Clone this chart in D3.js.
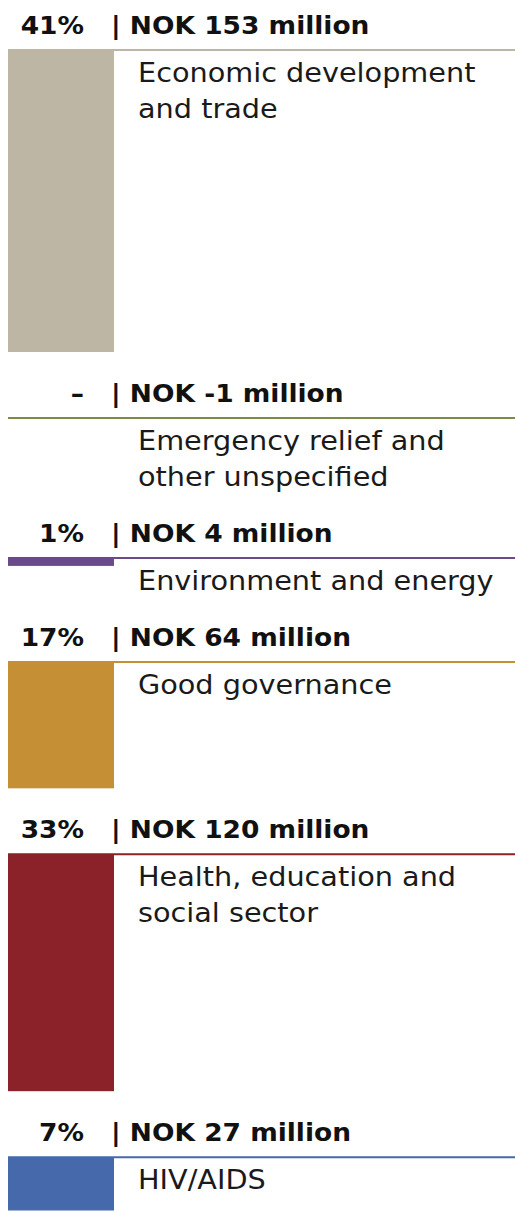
<!DOCTYPE html>
<html>
<head>
<meta charset="utf-8">
<script src="https://cdn.jsdelivr.net/npm/d3@7/dist/d3.min.js"></script>
<style>
  html, body { margin: 0; padding: 0; background: #fff; }
  svg { display: block; }
</style>
</head>
<body>
<svg id="chart" width="515" height="1212"></svg>
<script>
// Sector breakdown, NOK million and share of total
const sectors = [
  "Economic development and trade",
  "Emergency relief and other unspecified",
  "Environment and energy",
  "Good governance",
  "Health, education and social sector",
  "HIV/AIDS"
];
const labelLines = [
  ["Economic development", "and trade"],
  ["Emergency relief and", "other unspecified"],
  ["Environment and energy"],
  ["Good governance"],
  ["Health, education and", "social sector"],
  ["HIV/AIDS"]
];
const amounts = [153, -1, 4, 64, 120, 27];      // NOK million
const shares  = [41, null, 1, 17, 33, 7];       // percent of total (null = not shown)
const colors  = ["#bdb6a4", "#7e8a4b", "#6a4a8b", "#c48f35", "#8b2229", "#4569aa"];

const width = 515, height = 1212;
const svg = d3.select("#chart");

// Bar length scale (vertical), negatives get no bar
const h = d3.scaleLinear().domain([0, 153]).range([0, 302]);
// Horizontal layout: bar column and rule extent
const x = d3.scaleLinear().domain([0, 1]).range([8, 114]);

const fontFamily = "Verdana, 'DejaVu Sans', sans-serif";
const headStretch = 1.08, bodyStretch = 1.105;
const lineOffset = 16;    // header baseline -> rule
const textOffset = 48;    // header baseline -> first label baseline
const lineStep = 36;      // label line spacing
const textPad = 6;        // label descent
const gap = 50;           // space before next header

let cursorY = 34;
const rows = sectors.map((s, i) => {
  const ruleY = cursorY + lineOffset;
  const barH = h(Math.max(0, amounts[i]));
  const lastBaseline = cursorY + textOffset + (labelLines[i].length - 1) * lineStep;
  const row = { i, sector: s, headY: cursorY, ruleY, barH };
  cursorY = Math.max(ruleY + barH, lastBaseline + textPad) + gap;
  return row;
});

const g = svg.selectAll("g.row").data(rows).join("g").attr("class", "row");

// rule across the full width
g.append("line")
  .attr("x1", x(0)).attr("x2", width)
  .attr("y1", d => d.ruleY).attr("y2", d => d.ruleY)
  .attr("stroke", d => colors[d.i])
  .attr("stroke-width", 2);

// bar
g.filter(d => d.barH > 0).append("rect")
  .attr("x", x(0))
  .attr("y", d => d.ruleY)
  .attr("width", x(1) - x(0))
  .attr("height", d => d.barH)
  .attr("fill", d => colors[d.i]);

// share (right aligned)
g.append("text")
  .attr("transform", d => `translate(84,${d.headY}) scale(${headStretch},1)`)
  .attr("text-anchor", "end")
  .attr("font-family", fontFamily)
  .attr("font-weight", "bold")
  .attr("font-size", 24.5)
  .attr("fill", "#111")
  .text(d => shares[d.i] == null ? "\u2013" : `${shares[d.i]}%`);

// amount
g.append("text")
  .attr("transform", d => `translate(111,${d.headY}) scale(${headStretch},1)`)
  .attr("font-family", fontFamily)
  .attr("font-weight", "bold")
  .attr("font-size", 24.5)
  .attr("fill", "#111")
  .text(d => `| NOK ${amounts[d.i]} million`);

// sector label
g.each(function (d) {
  d3.select(this).selectAll("text.label")
    .data(labelLines[d.i])
    .join("text")
    .attr("class", "label")
    .attr("transform", (t, k) => `translate(138,${d.headY + textOffset + k * lineStep}) scale(${bodyStretch},1)`)
    .attr("font-family", fontFamily)
    .attr("font-size", 26)
    .attr("fill", "#1a1a1a")
    .text(t => t);
});
</script>
</body>
</html>
